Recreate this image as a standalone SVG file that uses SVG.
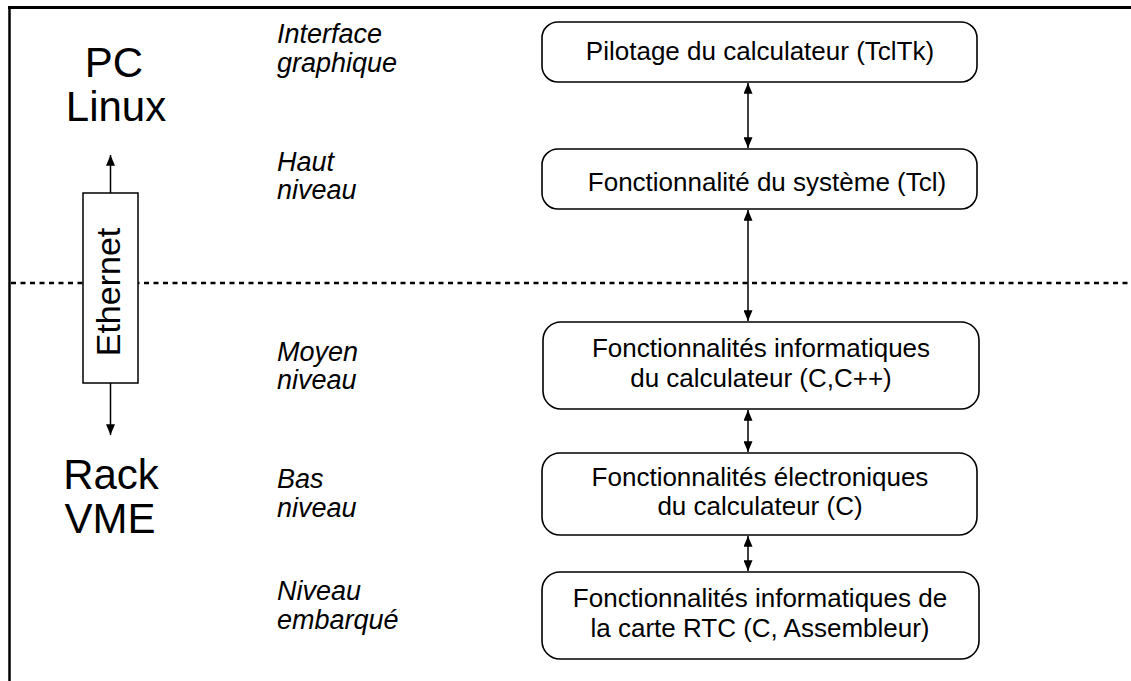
<svg xmlns="http://www.w3.org/2000/svg" width="1131" height="681" viewBox="0 0 1131 681">
<style>
.box{fill:#fff;stroke:#000;stroke-width:1.6}
.bt{font-family:"Liberation Sans",Arial,sans-serif;font-size:26px;fill:#000;text-anchor:middle}
.lvl{font-family:"Liberation Sans",Arial,sans-serif;font-size:27px;font-style:italic;fill:#000}
.big{font-family:"Liberation Sans",Arial,sans-serif;font-size:42px;fill:#000;text-anchor:middle}
.conn{stroke:#000;stroke-width:1.5;fill:none;marker-start:url(#ah);marker-end:url(#ah)}
</style>
<defs>
<marker id="ah" viewBox="0 0 12 10" refX="12" refY="5" markerWidth="12" markerHeight="9" markerUnits="userSpaceOnUse" orient="auto-start-reverse">
<path d="M0,0 L12,5 L0,10 Z" fill="#000"/>
</marker>
</defs>
<rect width="1131" height="681" fill="#fff"/>
<g id="frame">
<line x1="8" y1="7.5" x2="1131" y2="7.5" stroke="#000" stroke-width="3"/>
<line x1="9.5" y1="6" x2="9.5" y2="681" stroke="#000" stroke-width="2.5"/>
</g>
<g id="separator">
<line x1="11" y1="283" x2="1131" y2="283" stroke="#000" stroke-width="2.5" stroke-dasharray="5,4.5"/>
</g>
<g id="connectors">
<line class="conn" x1="748" y1="83" x2="748" y2="148"/>
<line class="conn" x1="748" y1="210" x2="748" y2="321"/>
<line class="conn" x1="748" y1="410" x2="748" y2="452"/>
<line class="conn" x1="748" y1="536" x2="748" y2="571"/>
<line class="conn" x1="110.5" y1="155" x2="110.5" y2="435"/>
</g>
<g id="ethernet">
<rect x="83" y="193" width="55" height="190" fill="#fff" stroke="#000" stroke-width="1.5"/>
<text class="big" style="font-size:34px" transform="translate(120,292) rotate(-90)">Ethernet</text>
</g>
<g id="pc-linux">
<text class="big" x="114" y="77">PC</text>
<text class="big" x="116" y="121">Linux</text>
</g>
<g id="rack-vme">
<text class="big" x="111" y="489">Rack</text>
<text class="big" x="110" y="533">VME</text>
</g>
<g id="levels">
<text class="lvl" x="277" y="43">Interface</text>
<text class="lvl" x="277" y="72">graphique</text>
<text class="lvl" x="277" y="171">Haut</text>
<text class="lvl" x="277" y="199">niveau</text>
<text class="lvl" x="277" y="361">Moyen</text>
<text class="lvl" x="277" y="389">niveau</text>
<text class="lvl" x="277" y="488">Bas</text>
<text class="lvl" x="277" y="517">niveau</text>
<text class="lvl" x="277" y="600">Niveau</text>
<text class="lvl" x="277" y="629">embarqué</text>
</g>
<g id="box1">
<rect class="box" x="542" y="22" width="435" height="60" rx="16"/>
<text class="bt" x="760" y="60">Pilotage du calculateur (TclTk)</text>
</g>
<g id="box2">
<rect class="box" x="542" y="149" width="435" height="60" rx="16"/>
<text class="bt" x="767" y="191">Fonctionnalité du système (Tcl)</text>
</g>
<g id="box3">
<rect class="box" x="543" y="322" width="436" height="87" rx="18"/>
<text class="bt" x="761" y="357">Fonctionnalités informatiques</text>
<text class="bt" x="761" y="387">du calculateur (C,C++)</text>
</g>
<g id="box4">
<rect class="box" x="542" y="453" width="435" height="82" rx="18"/>
<text class="bt" x="760" y="486">Fonctionnalités électroniques</text>
<text class="bt" x="760" y="515">du calculateur (C)</text>
</g>
<g id="box5">
<rect class="box" x="542" y="572" width="437" height="87" rx="18"/>
<text class="bt" x="760" y="607">Fonctionnalités informatiques de</text>
<text class="bt" x="760" y="637">la carte RTC (C, Assembleur)</text>
</g>
</svg>
